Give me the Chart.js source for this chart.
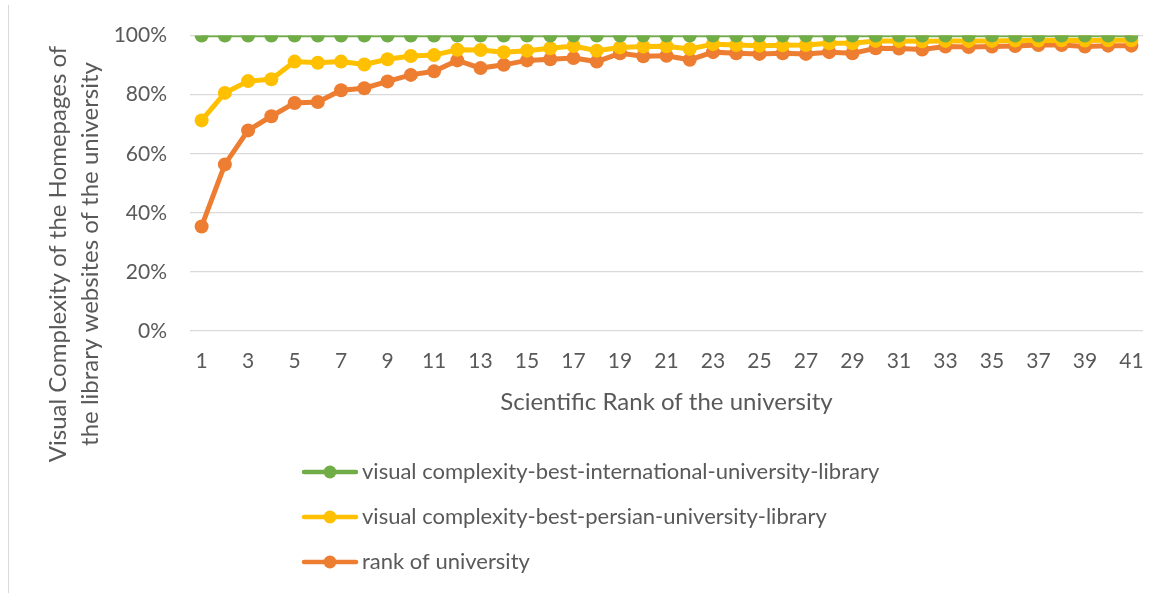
<!DOCTYPE html>
<html>
<head>
<meta charset="utf-8">
<title>Visual complexity vs scientific rank</title>
<script src="https://cdn.jsdelivr.net/npm/chart.js@4"></script>
<style>
    html, body { margin: 0; padding: 0; background: #ffffff; }
    #wrap { position: relative; width: 1165px; height: 593px; }
    #frame-line { position: absolute; left: 8px; top: 5px; width: 1px; height: 588px; background: #d9d9d9; }
</style>
</head>
<body>
<div id="wrap">
    <div id="frame-line"></div>
    <canvas id="chart"></canvas>
</div>
<script>
// Scientific rank of the university (x categories)
const ranks = [1, 2, 3, 4, 5, 6, 7, 8, 9, 10, 11, 12, 13, 14, 15, 16, 17, 18, 19, 20, 21,
    22, 23, 24, 25, 26, 27, 28, 29, 30, 31, 32, 33, 34, 35, 36, 37, 38, 39, 40, 41];

// values in percent
const bestInternational = [100, 100, 100, 100, 100, 100, 100, 100, 100, 100, 100, 100, 100, 100,
    100, 100, 100, 100, 100, 100, 100, 100, 100, 100, 100, 100, 100, 100, 100, 100, 100, 100,
    100, 100, 100, 100, 100, 100, 100, 100, 100];
const bestPersian = [71.3, 80.6, 84.6, 85.2, 91.2, 90.8, 91.2, 90.2, 92.0, 93.1, 93.4, 95.2, 95.1,
    94.4, 94.9, 95.7, 96.5, 94.9, 96.0, 96.3, 96.4, 95.5, 97.1, 96.8, 96.6, 96.7, 96.8, 97.4,
    97.4, 98.2, 98.2, 98.1, 98.2, 98.2, 98.2, 98.3, 98.3, 98.4, 98.3, 98.4, 98.4];
const rankOfUniversity = [35.4, 56.4, 67.9, 72.7, 77.2, 77.5, 81.5, 82.2, 84.5, 86.7, 87.9, 91.6,
    89.0, 90.1, 91.6, 92.0, 92.4, 91.2, 94.0, 93.0, 93.2, 91.8, 94.4, 94.0, 93.8, 94.0, 93.8,
    94.4, 94.0, 95.7, 95.6, 95.3, 96.3, 96.1, 96.3, 96.5, 96.8, 96.8, 96.3, 96.6, 96.6];

const yTicks = [0, 20, 40, 60, 80, 100];

const seriesNames = [
    'visual complexity-best-international-university-library',
    'visual complexity-best-persian-university-library',
    'rank of university'
];
const yTitleLines = ['Visual Complexity of the Homepages of', 'the library websites of the university'];
const xTitle = 'Scientific Rank of the university';

const textColor = '#595959';
const fontFamily = 'Lato, "Open Sans", sans-serif';

// Rotated two-line y axis title, centred on the whole chart like the original
const yTitlePlugin = {
    id: 'yTitle',
    afterDraw(chart) {
        const ctx = chart.ctx;
        ctx.save();
        ctx.fillStyle = textColor;
        ctx.font = `24px ${fontFamily}`;
        ctx.textAlign = 'center';
        ctx.textBaseline = 'alphabetic';
        const baselines = [66, 98];
        yTitleLines.forEach((line, i) => {
            ctx.save();
            ctx.translate(baselines[i], 254);
            ctx.rotate(-Math.PI / 2);
            ctx.fillText(line, 0, 0);
            ctx.restore();
        });
        ctx.restore();
    }
};

// Vertical legend at the bottom left, line + marker like the original
const legendPlugin = {
    id: 'stackedLegend',
    afterDraw(chart) {
        const ctx = chart.ctx;
        const rows = [472, 517, 562];
        ctx.save();
        chart.data.datasets.forEach((ds, i) => {
            const y = rows[i];
            ctx.strokeStyle = ds.borderColor;
            ctx.lineWidth = 4.5;
            ctx.lineCap = 'round';
            ctx.beginPath();
            ctx.moveTo(304, y);
            ctx.lineTo(356, y);
            ctx.stroke();
            ctx.fillStyle = ds.borderColor;
            ctx.beginPath();
            ctx.arc(330, y, 6.5, 0, Math.PI * 2);
            ctx.fill();
            ctx.fillStyle = textColor;
            ctx.font = `22px ${fontFamily}`;
            ctx.textBaseline = 'middle';
            ctx.textAlign = 'left';
            ctx.fillText(ds.label, 362, y);
        });
        ctx.restore();
    }
};

const chartCanvas = document.getElementById('chart');

new Chart(chartCanvas, {
    type: 'line',
    data: {
        labels: ranks,
        datasets: [
            {
                label: seriesNames[0],
                data: bestInternational,
                borderColor: '#70AD47',
                backgroundColor: '#70AD47',
                borderWidth: 3.5,
                pointRadius: 7,
                pointBorderWidth: 0,
                pointBackgroundColor: '#70AD47'
            },
            {
                label: seriesNames[1],
                data: bestPersian,
                borderColor: '#FFC000',
                backgroundColor: '#FFC000',
                borderWidth: 5,
                pointRadius: 7,
                pointBorderWidth: 0,
                pointBackgroundColor: '#FFC000'
            },
            {
                label: seriesNames[2],
                data: rankOfUniversity,
                borderColor: '#ED7D31',
                backgroundColor: '#ED7D31',
                borderWidth: 5,
                pointRadius: 7,
                pointBorderWidth: 0,
                pointBackgroundColor: '#ED7D31'
            }
        ]
    },
    options: {
        responsive: true,
        maintainAspectRatio: false,
        animation: false,
        layout: {
            padding: { left: 0, top: 34, right: 22, bottom: 176 }
        },
        plugins: {
            legend: { display: false },
            tooltip: { enabled: false }
        },
        scales: {
            x: {
                offset: true,
                grid: { display: false, drawTicks: false },
                border: { display: false },
                ticks: {
                    autoSkip: false,
                    maxRotation: 0,
                    padding: 18,
                    color: textColor,
                    font: { family: fontFamily, size: 21 },
                    callback: (value, index) => index % 2 === 0 ? ranks[index] : ''
                },
                title: {
                    display: true,
                    text: xTitle,
                    color: textColor,
                    font: { family: fontFamily, size: 24 },
                    padding: { top: 0, bottom: 0 }
                },
                afterFit: scale => { scale.height = 86; }
            },
            y: {
                min: 0,
                max: 100,
                grid: { color: '#d9d9d9', lineWidth: 1.2, drawTicks: false },
                border: { display: false },
                afterBuildTicks: scale => { scale.ticks = yTicks.map(v => ({ value: v })); },
                ticks: {
                    padding: 23,
                    color: textColor,
                    font: { family: fontFamily, size: 21 },
                    callback: value => value + '%'
                },
                afterFit: scale => { scale.width = 190; }
            }
        }
    },
    plugins: [yTitlePlugin, legendPlugin]
});
</script>
</body>
</html>
